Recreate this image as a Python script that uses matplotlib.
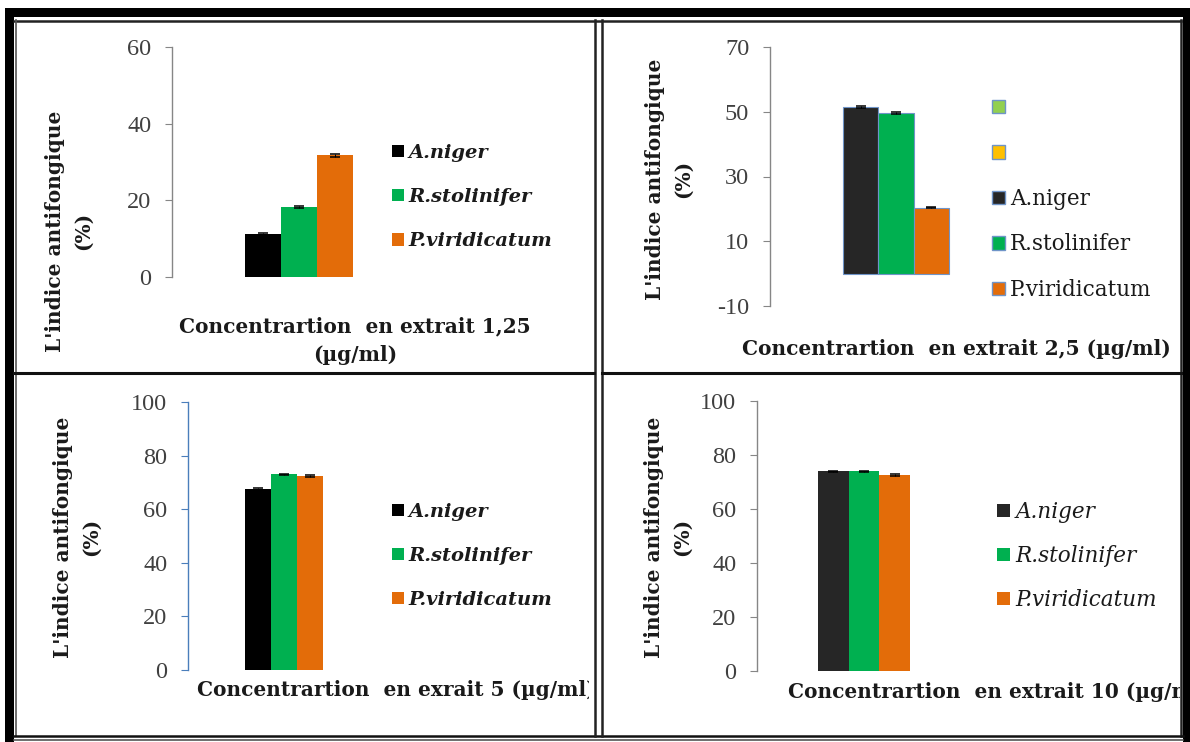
import matplotlib
matplotlib.use("Agg")
import matplotlib.pyplot as plt
from matplotlib.patches import Rectangle, Patch
from matplotlib.lines import Line2D
from matplotlib.transforms import Bbox, TransformedBbox

W, H = 1190, 742
plt.rcParams['font.family'] = ['Liberation Serif', 'DejaVu Serif']
plt.rcParams['axes.unicode_minus'] = False

species = ["A.niger", "R.stolinifer", "P.viridicatum"]
colors_a = ["#000000", "#00B050", "#E36C09"]
colors_b = ["#262626", "#00B050", "#E36C09"]

vals_125 = [11.2, 18.3, 31.8]
err_125 = [0.3, 0.3, 0.4]
vals_25 = [51.5, 49.6, 20.4]
err_25 = [0.3, 0.3, 0.2]
vals_5 = [67.5, 73.0, 72.3]
err_5 = [0.3, 0.3, 0.3]
vals_10 = [73.9, 73.9, 72.5]
err_10 = [0.2, 0.2, 0.3]

ticks_125 = [0, 20, 40, 60]
ticks_25 = [-10, 10, 30, 50, 70]
ticks_5 = [0, 20, 40, 60, 80, 100]
ticks_10 = [0, 20, 40, 60, 80, 100]

xlabel_125_a = "Concentrartion  en extrait 1,25"
xlabel_125_b = "(µg/ml)"
xlabel_25 = "Concentrartion  en extrait 2,5 (µg/ml)"
xlabel_5 = "Concentrartion  en exrait 5 (µg/ml)"
xlabel_10 = "Concentrartion  en extrait 10 (µg/ml)"
ylabel = "L'indice antifongique\n(%)"

LBL = "DejaVu Serif"
LBL_SIZE = 14.5

fig = plt.figure(figsize=(W / 100, H / 100), dpi=100)
fig.patch.set_facecolor("white")

def fx(x):
    return x / W

def fy(y):
    return 1 - y / H

TXT = "#1a1a1a"
TICK = "#404040"


def panel(x0, center, bar_px, ytop, ybot, spine_color, ylim, ticks, vals, errs, colors,
          edge=None):
    half = center - x0
    ax = fig.add_axes([fx(x0), fy(ybot), 2 * half / W, (ybot - ytop) / H])
    ax.set_facecolor("none")
    a = half / bar_px
    pos = [-1, 0, 1]
    for p, v, e, c, s in zip(pos, vals, errs, colors, species):
        ax.bar(p, v, width=1.0, color=c, label=s,
               edgecolor=edge if edge else c, linewidth=0.8 if edge else 0,
               yerr=e, capsize=3.5, error_kw=dict(ecolor="black", elinewidth=0.7, capthick=1.1),
               zorder=2)
    ax.set_xlim(-a, a)
    ax.set_ylim(*ylim)
    ax.set_yticks(ticks)
    for sp in ["top", "right", "bottom"]:
        ax.spines[sp].set_visible(False)
    ax.spines["left"].set_color(spine_color)
    ax.spines["left"].set_linewidth(1.0)
    ax.set_xticks([])
    ax.tick_params(axis="y", direction="out", length=5, width=0.8, color=spine_color,
                   labelsize=17.5, labelcolor=TICK, pad=10)
    return ax


def ylab(x, y):
    fig.text(fx(x), fy(y), ylabel, rotation=90, ha="center", va="center", fontsize=LBL_SIZE,
             family=LBL, fontweight="bold", color=TXT, linespacing=1.45, multialignment="center")


def legend(ax, x, y, prop, spacing, handles=None):
    kw = dict(loc="center left", bbox_to_anchor=(fx(x), fy(y)), bbox_transform=fig.transFigure,
              frameon=False, borderpad=0, borderaxespad=0, handlelength=0.6, handleheight=0.6,
              handletextpad=0.25, labelspacing=spacing, prop=prop)
    if handles is not None:
        kw["handles"] = handles
    lg = ax.legend(**kw)
    for t in lg.get_texts():
        t.set_color(TXT)
    return lg


# ---------- Panel 1 ----------
ax1 = panel(172, 299, 36, 47, 277, "#868686", (0, 60), ticks_125, vals_125, err_125, colors_a)
legend(ax1, 392, 197, dict(family=LBL, weight="bold", style="italic", size=14), 1.36)
fig.text(fx(355), fy(326), xlabel_125_a, ha="center", va="center",
         fontsize=LBL_SIZE, family=LBL, fontweight="bold", color=TXT)
fig.text(fx(355), fy(355), xlabel_125_b, ha="center", va="center",
         fontsize=LBL_SIZE, family=LBL, fontweight="bold", color=TXT)
ylab(69, 231)

# ---------- Panel 2 ----------
ax2 = panel(770, 896, 35.3, 47, 306, "#868686", (-10, 70), ticks_25, vals_25, err_25, colors_b,
            edge="#6F94C8")
extra = [Patch(facecolor="#92D050", edgecolor="#6F94C8", label=" "),
         Patch(facecolor="#FFC000", edgecolor="#6F94C8", label=" ")]
handles2 = extra + [Patch(facecolor=c, edgecolor="#6F94C8", label=s) for c, s in zip(colors_b, species)]
legend(ax2, 992, 199, dict(family=LBL, size=15.5), 1.09, handles=handles2)
fig.text(fx(956), fy(349), xlabel_25, ha="center", va="center",
         fontsize=LBL_SIZE, family=LBL, fontweight="bold", color=TXT)
ylab(669, 179)

# ---------- Panel 3 ----------
ax3 = panel(188, 284, 26, 402, 670, "#4A7EBB", (0, 100), ticks_5, vals_5, err_5, colors_a)
legend(ax3, 392, 556, dict(family=LBL, weight="bold", style="italic", size=14), 1.33)
t3 = fig.text(fx(197), fy(690), xlabel_5, ha="left", va="center",
              fontsize=LBL_SIZE, family=LBL, fontweight="bold", color=TXT)
t3.set_clip_box(TransformedBbox(Bbox([[fx(14), fy(736)], [fx(589), fy(374)]]), fig.transFigure))
t3.set_clip_on(True)
ylab(77, 537)

# ---------- Panel 4 ----------
ax4 = panel(757, 864, 30.7, 401, 671, "#868686", (0, 100), ticks_10, vals_10, err_10, colors_b)
legend(ax4, 997, 556, dict(family=LBL, style="italic", size=15.5), 1.02)
t4 = fig.text(fx(788), fy(692), xlabel_10, ha="left", va="center",
              fontsize=LBL_SIZE, family=LBL, fontweight="bold", color=TXT)
t4.set_clip_box(TransformedBbox(Bbox([[fx(603), fy(736)], [fx(1180), fy(374)]]), fig.transFigure))
t4.set_clip_on(True)
ylab(668, 537)

# ---------- Frame ----------
def rect(x0, y0, x1, y1, color="black"):
    fig.add_artist(Rectangle((fx(x0), fy(y1)), fx(x1) - fx(x0), fy(y0) - fy(y1),
                             transform=fig.transFigure, facecolor=color, edgecolor="none", zorder=10))

def hline(y, x0, x1, lw=1.5, color="black"):
    fig.add_artist(Line2D([fx(x0), fx(x1)], [fy(y), fy(y)], transform=fig.transFigure,
                          color=color, linewidth=lw, zorder=10))

def vline(x, y0, y1, lw=1.5, color="black"):
    fig.add_artist(Line2D([fx(x), fx(x)], [fy(y0), fy(y1)], transform=fig.transFigure,
                          color=color, linewidth=lw, zorder=10))

rect(5, 8, 1190, 17)
rect(5, 8, 14, 742)
rect(1183, 8, 1190, 742)
hline(20.5, 14, 1181, lw=1.8, color="#222222")
vline(15.5, 20, 736, lw=1.2, color="#555555")
vline(1181, 20, 736, lw=1.8, color="#222222")
hline(736, 14, 1183, lw=1.8, color="#111111")
hline(740, 14, 1183, lw=1.2, color="#555555")
vline(594.5, 20, 736, lw=1.8, color="#222222")
vline(601.5, 20, 736, lw=1.8, color="#222222")
hline(373, 14, 594, lw=2.2, color="#111111")
hline(373, 602, 1181, lw=2.2, color="#111111")

fig.savefig("out.png", dpi=100, facecolor="white")
